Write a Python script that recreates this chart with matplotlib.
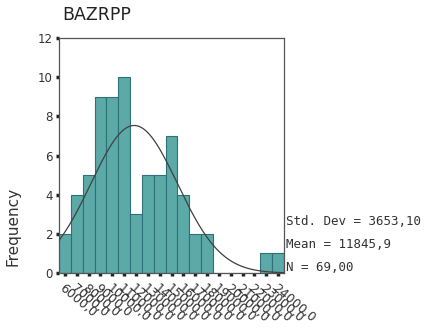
import numpy as np
import matplotlib
matplotlib.use("Agg")
import matplotlib.pyplot as plt

# histogram counts per 1000-wide bin (centers 6000..24000)
bin_centers = [6000, 7000, 8000, 9000, 10000, 11000, 12000, 13000, 14000, 15000,
               16000, 17000, 18000, 19000, 20000, 21000, 22000, 23000, 24000]
counts = [2, 4, 5, 9, 9, 10, 3, 5, 5, 7, 4, 2, 2, 0, 0, 0, 0, 1, 1]
tick_labels = ["6000,0", "7000,0", "8000,0", "9000,0", "10000,0", "11000,0",
               "12000,0", "13000,0", "14000,0", "15000,0", "16000,0", "17000,0",
               "18000,0", "19000,0", "20000,0", "21000,0", "22000,0", "23000,0",
               "24000,0"]
mean = 11845.9
std = 3653.10
n = 69
width = 1000

fig = plt.figure(figsize=(4.32, 3.3), dpi=100)
ax = fig.add_axes([0.1366, 0.1727, 0.5208, 0.712])

ax.bar(bin_centers, counts, width=width, color="#5caaa8", edgecolor="#2f6f78",
       linewidth=0.8, zorder=2)

xs = np.linspace(5500, 24500, 400)
ys = n * width / (std * np.sqrt(2 * np.pi)) * np.exp(-0.5 * ((xs - mean) / std) ** 2)
ax.plot(xs, ys, color="#404040", linewidth=0.9, zorder=3)

ax.set_xlim(5500, 24500)
ax.set_ylim(0, 12)
ax.set_yticks(range(0, 13, 2))
ax.set_xticks(bin_centers)
ax.set_xticklabels(tick_labels, rotation=-40, ha="left", va="top",
                   rotation_mode="anchor", fontsize=9, color="#333333")
ax.tick_params(axis="y", labelsize=8.5, labelcolor="#333333", length=2.5,
               width=2.5, color="#222222", pad=2)
ax.tick_params(axis="x", length=2.5, width=2.5, color="#222222", pad=4)

for s in ax.spines.values():
    s.set_color("#555555")
    s.set_linewidth(0.9)

fig.text(0.145, 0.955, "BAZRPP", fontsize=12.5, color="#222222",
         ha="left", va="center")
fig.text(0.03, 0.315, "Frequency", rotation=90, fontsize=11, color="#333333",
         ha="center", va="center")

stats = ["Std. Dev = 3653,10", "Mean = 11845,9", "N = 69,00"]
for i, s in enumerate(stats):
    fig.text(0.662, 0.33 - i * 0.071, s, fontsize=9.0, family="DejaVu Sans Mono",
             color="#333333", ha="left", va="center")

fig.savefig("out.png", dpi=100)
